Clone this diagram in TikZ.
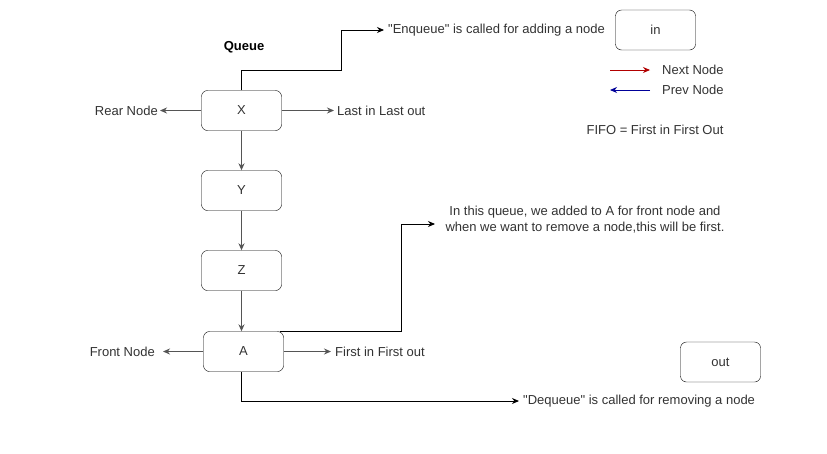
\documentclass[tikz,border=0pt]{standalone}
\usepackage{fontspec}
\setmainfont{Liberation Sans}[Ligatures=TeXOff]
\usetikzlibrary{arrows.meta}
\definecolor{txt}{HTML}{333333}
\definecolor{ln}{HTML}{555555}
\definecolor{nextred}{HTML}{B20000}
\definecolor{prevblue}{HTML}{000099}
\tikzset{
  qbox/.style={draw=black, rounded corners=6pt, minimum width=80pt, minimum height=40pt, inner sep=0pt, text=txt, font=\fontsize{13}{15}\selectfont},
  lbl/.style={inner sep=2pt, text=txt, font=\fontsize{13}{15}\selectfont},
  conn/.style={draw=ln, line width=0.9pt, -{Stealth[length=7pt,width=6pt]}},
  bconn/.style={draw=black, line width=0.9pt, -{Stealth[length=7pt,width=6pt]}}
}
\begin{document}
\begin{tikzpicture}[x=1pt,y=-1pt]
\useasboundingbox[fill=white] (0,0) rectangle (827,453);
% boxes
\node[qbox] (X) at (241.5,110.5) {X};
\node[qbox] (Y) at (241.5,190.5) {Y};
\node[qbox] (Z) at (241.5,270.5) {Z};
\node[qbox] (A) at (243.5,351.5) {A};
\node[qbox] (in) at (655.5,30) {in};
\node[qbox] (out) at (720.5,362) {out};
% labels
\node[lbl, font=\bfseries\fontsize{13}{15}\selectfont, text=black] (queue) at (244,47) {Queue};
\node[lbl, anchor=east] (rear) at (160,110.5) {Rear Node};
\node[lbl, anchor=west, inner xsep=3pt] (lilo) at (334,110.5) {Last in Last out};
\node[lbl, anchor=west, inner xsep=4pt] (enq) at (384,30) {"Enqueue" is called for adding a node};
\node[lbl, anchor=west] (nextl) at (660,70) {Next Node};
\node[lbl, anchor=west] (prevl) at (660,90) {Prev Node};
\node[lbl] (fifo) at (655,130) {FIFO = First in First Out};
\node[lbl, align=center, font=\fontsize{13}{16}\selectfont] (qt) at (585,220) {In this queue, we added to A for front node and\\when we want to remove a node,this will be first.};
\node[lbl, anchor=east, inner xsep=8pt] (front) at (163,351.5) {Front Node};
\node[lbl, anchor=west, inner xsep=4pt] (fifo2) at (331,351.5) {First in First out};
\node[lbl, anchor=west, inner xsep=4pt] (deq) at (519,401) {"Dequeue" is called for removing a node};
% free ends
\coordinate (n1) at (610,70);
\coordinate (n2) at (650,70);
\coordinate (p1) at (610,90);
\coordinate (p2) at (650,90);
\coordinate (e1) at (341,70);
\coordinate (q1) at (401,224);
\coordinate (q2) at (435,224);
% connectors
\draw[conn] (X) -- (Y);
\draw[conn] (Y) -- (Z);
\draw[conn] (Z.south) -- (Z.south |- A.north);
\draw[conn] (X) -- (rear);
\draw[conn] (X) -- (lilo);
\draw[bconn] (X.north) |- (e1) |- (enq.west);
\draw[conn] (A) -- (front);
\draw[conn] (A) -- (fifo2);
\draw[bconn] ([xshift=-4pt]A.north east) -| (q1) -- (q2);
\draw[bconn] ([xshift=-2pt]A.south) |- (deq.west);
\draw[draw=nextred, line width=0.9pt, -{Stealth[length=7pt,width=6pt]}] (n1) -- (n2);
\draw[draw=prevblue, line width=0.9pt, -{Stealth[length=7pt,width=6pt]}] (p2) -- (p1);
\end{tikzpicture}
\end{document}
